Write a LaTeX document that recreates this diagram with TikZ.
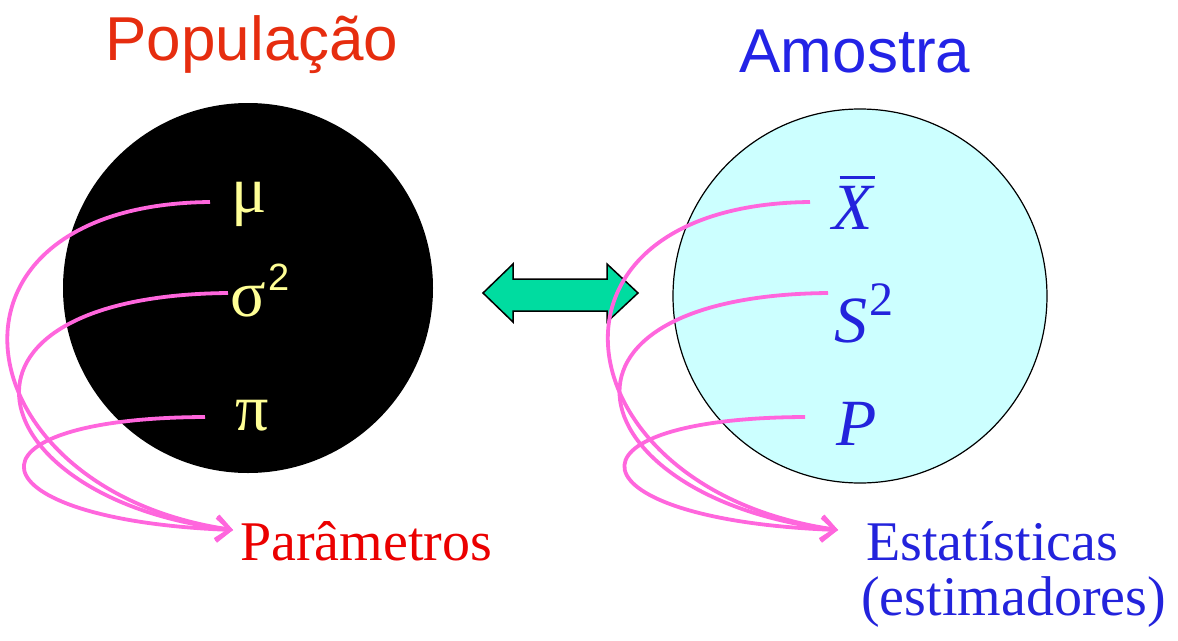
\documentclass[tikz,border=0pt]{standalone}
\usepackage{fontspec}
\setmainfont{Liberation Serif}
\newfontfamily\arialf{Liberation Sans}
\usetikzlibrary{arrows.meta}
\definecolor{popred}{RGB}{230,45,15}
\definecolor{amblue}{RGB}{35,35,230}
\definecolor{parred}{RGB}{235,0,0}
\definecolor{estblue}{RGB}{35,35,220}
\definecolor{pinkline}{RGB}{255,102,221}
\definecolor{paleyellow}{RGB}{255,255,150}
\definecolor{lightcyan}{RGB}{204,255,255}
\definecolor{arrowgreen}{RGB}{0,220,160}
\tikzset{
  title/.style={font=\arialf\fontsize{62}{66}\selectfont, inner sep=0pt, anchor=base},
  greek/.style={font=\fontsize{66}{68}\selectfont, text=paleyellow, inner sep=0pt, anchor=base west},
  stat/.style={font=\itshape\fontsize{66}{68}\selectfont, text=estblue, inner sep=0pt, anchor=base west},
  lbl/.style={font=\fontsize{56}{56}\selectfont, inner sep=0pt, anchor=base west},
  link/.style={draw=pinkline, line width=3.8pt, -{Straight Barb[length=14pt,width=24pt,line width=3.4pt]}},
}
\begin{document}
\begin{tikzpicture}[x=1pt,y=-1pt]
\useasboundingbox (0,0) rectangle (1178,640);
% titles
\node[title, text=popred] (poptitle) at (252,60) {População};
\node[title, text=amblue] (amtitle) at (855,72) {Amostra};
% circles
\node[circle, fill=black, minimum size=370pt, inner sep=0pt] (pop) at (248,288) {};
\node[circle, fill=lightcyan, draw=black, line width=1.2pt, minimum size=374pt, inner sep=0pt] (am) at (860,296) {};
% double arrow
\draw[fill=arrowgreen, draw=black, line width=1.5pt, line join=miter]
  (483,293) -- (513,264) -- (513,279) -- (607,279) -- (607,264) -- (638,293)
  -- (607,322) -- (607,311) -- (513,311) -- (513,322) -- cycle;
% greek parameters
\node[greek] (mu) at (231,212) {μ};
\node[greek] (sig) at (230,316) {σ\kern3pt{\arialf\fontsize{38}{38}\selectfont\raisebox{26pt}{2}}};
\node[greek] (pi) at (235,430) {π};
% statistics
\node[stat] (xbar) at (832,229) {X\llap{\raisebox{50pt}{\rule{35pt}{3pt}}\kern-2pt}};
\node[stat] (s2) at (834,342) {S\kern2pt{\upshape\fontsize{48}{48}\selectfont\raisebox{27pt}{2}}};
\node[stat] (p) at (836,445) {P};
% labels
\node[lbl, text=parred] (par) at (240,560) {Parâmetros};
\node[lbl, text=estblue] (est) at (866,560) {Estatísticas};
\node[lbl, text=estblue] (estim) at (861,615) {(estimadores)};
% connector coordinates
\coordinate (muL) at (210,202);
\coordinate (sigL) at (228,293);
\coordinate (piL) at (205,417);
\coordinate (parIn) at (233,530);
\coordinate (xL) at (810,202);
\coordinate (sL) at (828,293);
\coordinate (pL) at (805,417);
\coordinate (estIn) at (838,530);
% pink connectors left
\draw[link] (muL) .. controls (-85,205) and (-40,490) .. (parIn);
\draw[link] (sigL) .. controls (-80,296) and (-20,500) .. (parIn);
\draw[link] (piL) .. controls (-50,418) and (-30,520) .. (parIn);
% pink connectors right
\draw[link] (xL) .. controls (515,205) and (560,490) .. (estIn);
\draw[link] (sL) .. controls (520,296) and (580,500) .. (estIn);
\draw[link] (pL) .. controls (550,418) and (570,520) .. (estIn);
\end{tikzpicture}
\end{document}
